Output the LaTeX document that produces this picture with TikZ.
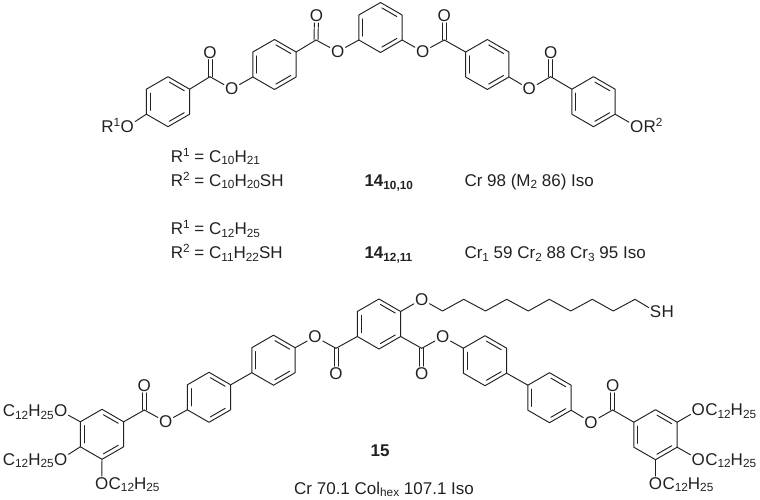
\documentclass[tikz,border=0pt]{standalone}
\usepackage{fontspec}
\setmainfont{Liberation Sans}
\usetikzlibrary{calc}
\definecolor{ink}{gray}{0.13}
\newcommand{\lo}[1]{\raisebox{-2.8pt}{\fontsize{11.8}{13}\selectfont #1}}
\newcommand{\hi}[1]{\raisebox{5.8pt}{\fontsize{11.8}{13}\selectfont #1}}
\newcommand{\lob}[1]{\raisebox{-3.2pt}{\fontsize{11.8}{13}\selectfont\bfseries #1}}
\tikzset{
  bond/.style={draw=ink,line width=0.95pt,line join=round,line cap=round},
  inner bond/.style={bond,shorten <=1.6pt,shorten >=1.6pt},
  atom/.style={rectangle,inner sep=1pt,text=ink,font=\fontsize{17}{19}\selectfont},
  tailright/.style={anchor=base west,inner sep=0pt,xshift=-1pt,text=ink,font=\fontsize{17}{19}\selectfont},
  tailleft/.style={anchor=base east,inner sep=0pt,xshift=1pt,text=ink,font=\fontsize{17}{19}\selectfont},
  caption/.style={anchor=base west,inner sep=0pt,text=ink,font=\fontsize{17}{19}\selectfont},
  captionb/.style={caption,font=\fontsize{17}{19}\selectfont\bfseries}
}
\newcommand{\hexring}[3]{%
  \coordinate (#1-c) at (#2,#3);
  \coordinate (#1-t) at (#2,#3-25);
  \coordinate (#1-ur) at (#2+21.65,#3-12.5);
  \coordinate (#1-lr) at (#2+21.65,#3+12.5);
  \coordinate (#1-b) at (#2,#3+25);
  \coordinate (#1-ll) at (#2-21.65,#3+12.5);
  \coordinate (#1-ul) at (#2-21.65,#3-12.5);
  \draw[bond] (#1-t)--(#1-ur)--(#1-lr)--(#1-b)--(#1-ll)--(#1-ul)--cycle;
  \draw[inner bond] ($(#1-ul)!.185!(#1-c)$)--($(#1-ll)!.185!(#1-c)$);
  \draw[inner bond] ($(#1-t)!.185!(#1-c)$)--($(#1-ur)!.185!(#1-c)$);
  \draw[inner bond] ($(#1-b)!.185!(#1-c)$)--($(#1-lr)!.185!(#1-c)$);
}
% ester: #1 name, #2,#3 carbonyl C, #4,#5 carbonyl O, #6,#7 ester O
\newcommand{\esterunit}[7]{%
  \coordinate (#1c) at (#2,#3);
  \node[atom] (#1d) at (#4,#5) {O};
  \node[atom] (#1e) at (#6,#7) {O};
  \draw[bond,transform canvas={xshift=-2pt}] (#1c)--(#1d);
  \draw[bond,transform canvas={xshift=2pt}] (#1c)--(#1d);
  \draw[bond] (#1c)--(#1e);
}
\begin{document}
\begin{tikzpicture}[x=1pt,y=-1pt]
\useasboundingbox (0,0) rectangle (760,500);
% ---------- upper molecule
\hexring{a}{168}{101.7}
\hexring{b}{274.5}{64.5}
\hexring{m}{380.5}{27.5}
\hexring{d}{487.3}{64.5}
\hexring{e}{593.5}{101.7}
\esterunit{p}{210}{76.7}{210}{52.3}{231.7}{89}
\esterunit{q}{316}{40}{316.5}{15.7}{337.7}{51.7}
\esterunit{r}{444.3}{40}{444.3}{15.7}{422.7}{51.7}
\esterunit{s}{550.7}{76.7}{550.7}{52.3}{529.3}{89}
\draw[bond] (a-ur)--(pc);
\draw[bond] (pe)--(b-ll);
\draw[bond] (b-ur)--(qc);
\draw[bond] (qe)--(m-ll);
\draw[bond] (m-lr)--(re);
\draw[bond] (rc)--(d-ul);
\draw[bond] (d-lr)--(se);
\draw[bond] (sc)--(e-ul);
\node[atom] (ro) at (127.3,126.7) {O};
\node[tailleft] (rone) at (ro.base west) {R\hi{1}};
\draw[bond] (ro)--(a-ll);
\node[atom] (rt) at (636.7,126.7) {O};
\node[tailright] (rtwo) at (rt.base east) {R\hi{2}};
\draw[bond] (rt)--(e-lr);
% ---------- captions
\node[caption] (l1) at (170.7,162) {R\hi{1} = C\lo{10}H\lo{21}};
\node[caption] (l2) at (170.7,186) {R\hi{2} = C\lo{10}H\lo{20}SH};
\node[caption] (l3) at (170.7,234.3) {R\hi{1} = C\lo{12}H\lo{25}};
\node[caption] (l4) at (170.7,258.3) {R\hi{2} = C\lo{11}H\lo{22}SH};
\node[captionb] (n1) at (364.3,186) {14\lob{10,10}};
\node[captionb] (n2) at (364.3,258.3) {14\lob{12,11}};
\node[caption] (t1) at (464.3,186) {Cr 98 (M\lo{2} 86) Iso};
\node[caption] (t2) at (464.3,258.3) {Cr\lo{1} 59 Cr\lo{2} 88 Cr\lo{3} 95 Iso};
\node[captionb] (n3) at (370.5,456.7) {15};
\node[caption] (t3) at (294,494) {Cr 70.1 Col\lo{hex} 107.1 Iso};
% ---------- lower molecule
\hexring{f}{102}{434.3}
\hexring{g}{209}{397.3}
\hexring{h}{273.5}{360.2}
\hexring{k}{379}{324}
\hexring{u}{485}{360.7}
\hexring{v}{549.5}{397.7}
\hexring{w}{655.5}{434.7}
\esterunit{x}{144.3}{410}{144.3}{385.7}{165.7}{421.7}
\esterunit{y}{336}{348.3}{336}{373.3}{315}{336.7}
\esterunit{z}{421.7}{348.3}{421.7}{373.3}{442.7}{336.7}
\esterunit{zz}{612.7}{410}{612.7}{385.7}{591}{422.3}
\draw[bond] (f-ur)--(xc);
\draw[bond] (xe)--(g-ll);
\draw[bond] (g-ur)--(h-ll);
\draw[bond] (h-ur)--(ye);
\draw[bond] (yc)--(k-ll);
\draw[bond] (k-lr)--(zc);
\draw[bond] (ze)--(u-ul);
\draw[bond] (u-lr)--(v-ul);
\draw[bond] (v-lr)--(zze);
\draw[bond] (zzc)--(w-ul);
% left tails
\node[atom] (fa) at (60.7,411) {O};
\node[tailleft] (fat) at (fa.base west) {C\lo{12}H\lo{25}};
\node[atom] (fb) at (60.7,459.3) {O};
\node[tailleft] (fbt) at (fb.base west) {C\lo{12}H\lo{25}};
\node[atom] (fc) at (101.7,483.3) {O};
\node[tailright] (fct) at (fc.base east) {C\lo{12}H\lo{25}};
\draw[bond] (fa)--(f-ul);
\draw[bond] (fb)--(f-ll);
\draw[bond] (fc)--(f-b);
% right tails
\node[atom] (wa) at (698.3,410) {O};
\node[tailright] (wat) at (wa.base east) {C\lo{12}H\lo{25}};
\node[atom] (wb) at (698.3,459.3) {O};
\node[tailright] (wbt) at (wb.base east) {C\lo{12}H\lo{25}};
\node[atom] (wc) at (655.5,483.3) {O};
\node[tailright] (wct) at (wc.base east) {C\lo{12}H\lo{25}};
\draw[bond] (wa)--(w-ur);
\draw[bond] (wb)--(w-lr);
\draw[bond] (wc)--(w-b);
% thiol chain
\node[atom] (co) at (421.7,299.3) {O};
\node[atom] (sul) at (655.5,311.7) {S};
\node[tailright] (hyd) at (sul.base east) {H};
\coordinate (c1) at (442.5,311);
\coordinate (c2) at (463.7,299.3);
\coordinate (c3) at (485.5,311);
\coordinate (c4) at (506.7,299.3);
\coordinate (c5) at (528.3,311);
\coordinate (c6) at (549.3,299.3);
\coordinate (c7) at (570.7,311);
\coordinate (c8) at (592.3,299.3);
\coordinate (c9) at (613.3,311);
\coordinate (c10) at (635,299.3);
\draw[bond] (k-ur)--(co);
\draw[bond] (co)--(c1)--(c2)--(c3)--(c4)--(c5)--(c6)--(c7)--(c8)--(c9)--(c10)--(sul);
\end{tikzpicture}
\end{document}
